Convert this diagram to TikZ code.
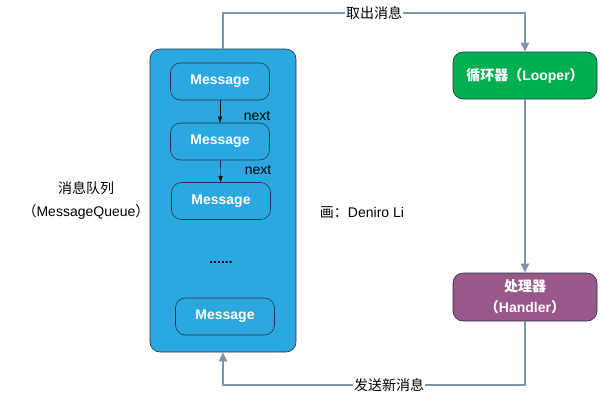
\documentclass[tikz,border=0pt]{standalone}
\usepackage{fontspec}
\setmainfont{Liberation Sans}
\newfontfamily\cjk{Noto Sans CJK SC}
\usetikzlibrary{positioning,arrows.meta}

\definecolor{queueblue}{RGB}{44,168,224}
\definecolor{looperg}{RGB}{0,176,80}
\definecolor{handlerp}{RGB}{153,88,137}
\definecolor{flowgray}{RGB}{127,147,171}
\definecolor{edgedark}{RGB}{35,50,65}

\begin{document}
\begin{tikzpicture}[
    x=1pt, y=-1pt,
    every node/.style={font=\fontsize{14}{16}\selectfont},
    queue/.style={draw=edgedark, semithick, fill=queueblue, rounded corners=10pt, minimum width=146pt, minimum height=303pt},
    msg/.style={draw=edgedark, semithick, fill=queueblue, rounded corners=10pt, minimum width=99pt, minimum height=37pt, text=white, font=\fontsize{14}{16}\selectfont\bfseries},
    worker/.style={draw=edgedark, semithick, rounded corners=10pt, minimum width=144pt, minimum height=47pt, text=white, align=center, font=\fontsize{14}{21}\selectfont\bfseries},
    flow/.style={draw=flowgray, line width=2pt},
    tip/.style={-{Triangle[width=8pt,length=9pt]}},
    nextarrow/.style={draw=black, thin, -{Triangle[width=4pt,length=6pt]}},
    label/.style={fill=white, inner sep=1pt, text=black}
]
\useasboundingbox (0,0) rectangle (600,400);

% Message queue and its messages
\node[queue] (queue) at (223,200.5) {};
\node[msg] (msg1) at (220,81.5) {Message};
\node[msg] (msg2) at (220,141.5) {Message};
\node[msg] (msg3) at (221,201) {Message};
\node[font=\fontsize{14}{16}\selectfont\bfseries] (dots) at (221,262) {......};
\node[msg] (msg4) at (225,316.5) {Message};

% next pointers
\draw[nextarrow] (msg1) -- (msg2);
\draw[nextarrow] (msg2) -- (msg3);
\node (next1) at (257,116) {next};
\node (next2) at (258,170) {next};

% Queue name
\node[align=center, font=\fontsize{14}{23}\selectfont] (qname) at (86,200) {{\cjk 消息队列}\\{\cjk （}MessageQueue{\cjk ）}};

% Author
\node (author) at (362,213) {{\cjk 画：}Deniro Li};

% Looper and handler
\node[worker, fill=looperg] (looper) at (525,75.5) {{\cjk 循环器（}Looper{\cjk ）}};
\node[worker, fill=handlerp, minimum height=48pt] (handler) at (525,297) {{\cjk 处理器}\\{\cjk （}Handler{\cjk ）}};

% Flow of messages
\coordinate (tl) at (223,13);
\coordinate (tr) at (525,13);
\coordinate (br) at (525,385);
\coordinate (bl) at (223,385);
\draw[flow, tip] (queue.north) -- (tl) -- node[label] {\cjk 取出消息} (tr) -- (looper.north);
\draw[flow, tip] (looper.south) -- (handler.north);
\draw[flow, tip] (handler.south) -- (br) -- node[label, pos=0.45] {\cjk 发送新消息} (bl) -- (queue.south);

\end{tikzpicture}
\end{document}
